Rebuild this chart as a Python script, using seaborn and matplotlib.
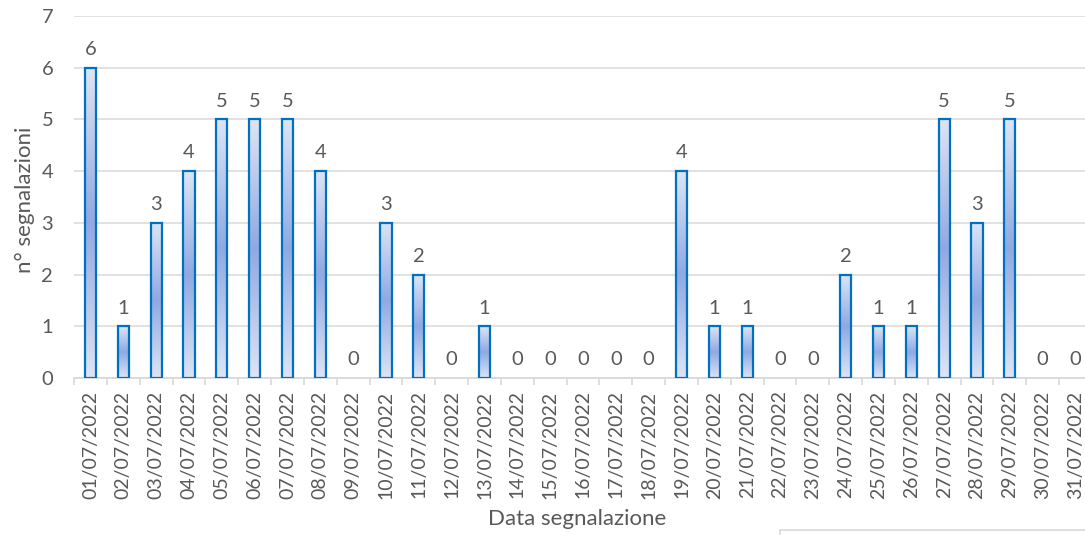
import numpy as np
import pandas as pd
import matplotlib
matplotlib.use("Agg")
import matplotlib.pyplot as plt
import seaborn as sns
from matplotlib.colors import LinearSegmentedColormap
from matplotlib.lines import Line2D

dates = [f"{d:02d}/07/2022" for d in range(1, 32)]
counts = [6, 1, 3, 4, 5, 5, 5, 4, 0, 3, 2, 0, 1, 0, 0, 0, 0, 0, 4, 1, 1, 0, 0, 2, 1, 1, 5, 3, 5, 0, 0]

sns.set_theme(style="white")
plt.rcParams['font.family'] = ['Lato', 'DejaVu Sans']
text_col = "#595959"
grid_col = "#d9d9d9"

df = pd.DataFrame({"Data": dates, "n": counts})

fig = plt.figure(figsize=(10.85, 5.35), dpi=100)
ax = fig.add_axes([74/1085, 1-378/535, 1018/1085, (378-16)/535])

sns.barplot(data=df, x="Data", y="n", ax=ax, width=0.34, color="#8faadc",
            edgecolor="#0070c0", linewidth=1.6, zorder=3)

cmap = LinearSegmentedColormap.from_list("g", ["#dde5f5", "#8fa9e2", "#dde5f5"])
grad = np.linspace(0, 1, 256).reshape(-1, 1)
for p in ax.patches:
    x0, y0 = p.get_x(), p.get_y()
    w, h = p.get_width(), p.get_height()
    if h <= 0:
        p.set_visible(False)
        continue
    im = ax.imshow(grad, cmap=cmap, aspect="auto", extent=[x0, x0 + w, y0, y0 + h],
                   origin="lower", zorder=2.5, interpolation="bicubic")
    im.set_clip_path(p)
    p.set_facecolor("none")

for i, v in enumerate(counts):
    ax.annotate(str(v), (i, v), xytext=(0, 7), textcoords="offset points",
                ha="center", va="bottom", fontsize=14.5, color=text_col)

ax.set_xlim(-0.5, len(dates) - 0.5)
ax.set_ylim(0, 7)
ax.set_yticks(range(0, 8))
ax.yaxis.grid(True, color=grid_col, linewidth=1.1, zorder=0)
ax.xaxis.grid(False)
for s in ["top", "right", "left"]:
    ax.spines[s].set_visible(False)
ax.spines["bottom"].set_color(grid_col)
ax.spines["bottom"].set_linewidth(1.3)

ax.tick_params(axis="x", which="major", length=0, pad=9, labelsize=14, labelcolor=text_col, rotation=90)
ax.set_xticks(np.arange(-0.5, len(dates), 1), minor=True)
ax.tick_params(axis="x", which="minor", length=5, width=1.2, color=grid_col, bottom=True)
ax.tick_params(axis="y", length=0, pad=15, labelsize=14.5, labelcolor=text_col)

ax.set_xlabel("Data segnalazione", fontsize=16, color=text_col)
ax.xaxis.set_label_coords((577-74)/1018, -(519-378)/362)
ax.xaxis.label.set_va("center")
ax.set_ylabel("n° segnalazioni", fontsize=16, color=text_col)
ax.yaxis.set_label_coords(-(74-25)/1018, (378-200)/362)
ax.yaxis.label.set_va("center")

fig.add_artist(Line2D([780/1085, 1.0], [1-530/535, 1-530/535], color=grid_col, linewidth=1.2, transform=fig.transFigure))
fig.add_artist(Line2D([780/1085, 780/1085], [1-530/535, 0], color=grid_col, linewidth=1.2, transform=fig.transFigure))

fig.savefig("out.png", dpi=100)
